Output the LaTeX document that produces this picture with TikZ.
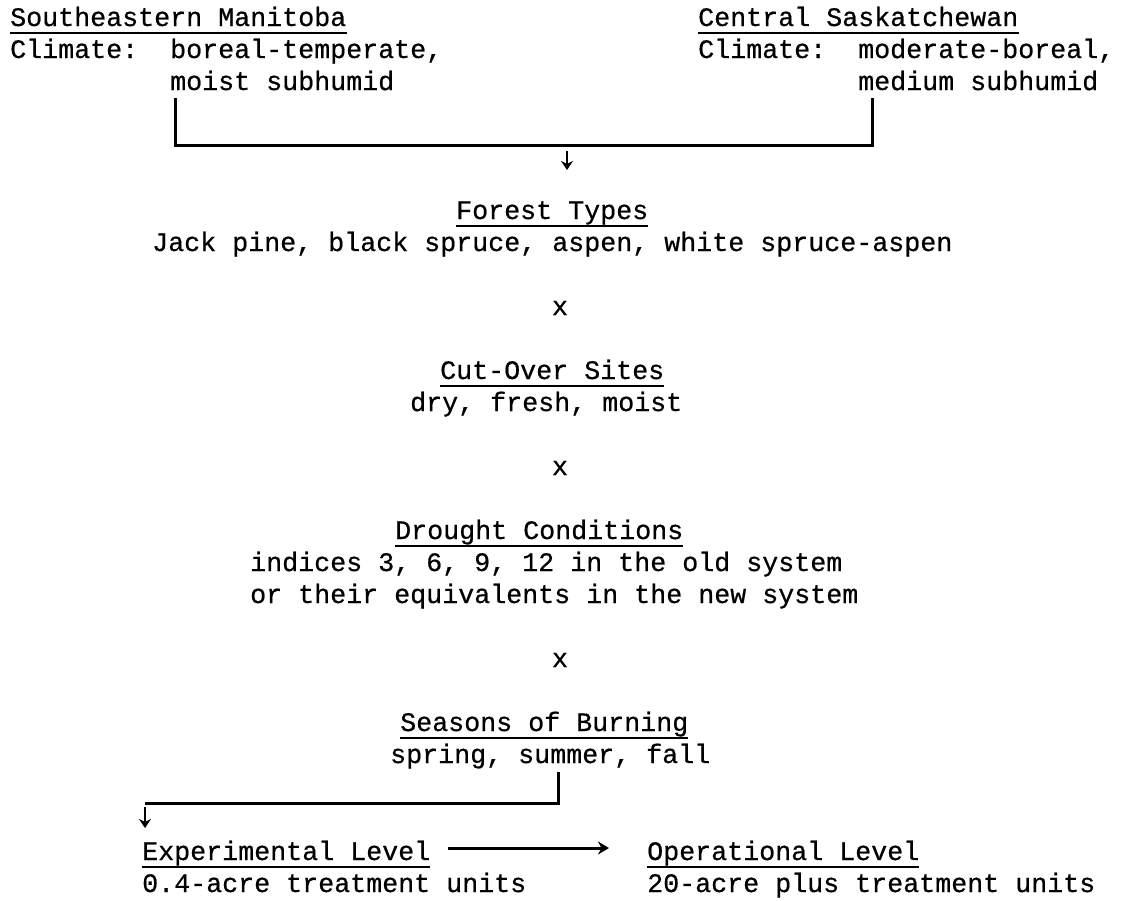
\documentclass[tikz,border=0pt]{standalone}
\usepackage{fontspec}
\newfontfamily\tw{Liberation Mono}[FakeBold=0.6]
\usetikzlibrary{arrows.meta}
\newcommand\myuline[1]{\draw[uline] ([yshift=-7pt]#1.base west) -- ([yshift=-7pt]#1.base east);}
\begin{document}
\begin{tikzpicture}[x=1pt,y=1pt,
  txt/.style={anchor=base west, inner sep=0pt, font=\tw\fontsize{26.67pt}{32pt}\selectfont},
  ctxt/.style={txt, anchor=base},
  uline/.style={line width=1.8pt},
  conn/.style={line width=3pt},
  darrow/.style={line width=2.6pt, -{Stealth[length=9pt,width=12pt]}},
  rarrow/.style={line width=3pt, -{Stealth[length=11pt,width=13pt]}}]
\useasboundingbox (0,0) rectangle (1121,-900);
% top left
\node[txt] (sm) at (10,-26) {Southeastern Manitoba};
\node[txt] (smc) at (10,-58) {Climate:};
\node[txt] (smc1) at (170,-58) {boreal-temperate,};
\node[txt] (smc2) at (170,-90) {moist subhumid};
\myuline{sm}
% top right
\node[txt] (cs) at (698,-26) {Central Saskatchewan};
\node[txt] (csc) at (698,-58) {Climate:};
\node[txt] (csc1) at (858,-58) {moderate-boreal,};
\node[txt] (csc2) at (858,-90) {medium subhumid};
\myuline{cs}
% bracket
\coordinate (tl) at (175,-98);
\coordinate (tr) at (872,-98);
\coordinate (bl) at (175,-145);
\coordinate (br) at (872,-145);
\draw[conn, line join=miter] (tl) -- (bl) -- (br) -- (tr);
\coordinate (a1s) at (567,-151);
% forest types
\node[txt] (ft) at (456,-219) {Forest Types};
\node[txt] (ft1) at (152,-251) {Jack pine, black spruce, aspen, white spruce-aspen};
\myuline{ft}
\coordinate (a1e) at (567,-170);
\draw[darrow] (a1s) -- (a1e);
\node[ctxt] (x1) at (560,-315) {x};
% cut-over
\node[txt] (co) at (440,-379) {Cut-Over Sites};
\node[txt] (co1) at (410,-411) {dry, fresh, moist};
\myuline{co}
\node[ctxt] (x2) at (560,-475) {x};
% drought
\node[txt] (dc) at (395,-539) {Drought Conditions};
\node[txt] (dc1) at (250,-571) {indices 3, 6, 9, 12 in the old system};
\node[txt] (dc2) at (250,-603) {or their equivalents in the new system};
\myuline{dc}
\node[ctxt] (x3) at (560,-667) {x};
% seasons
\node[txt] (sb) at (400,-731) {Seasons of Burning};
\node[txt] (sb1) at (390,-763) {spring, summer, fall};
\myuline{sb}
% levels
\node[txt] (el) at (142,-860) {Experimental Level};
\node[txt] (el1) at (142,-892) {0.4-acre treatment units};
\myuline{el}
\node[txt] (ol) at (647,-860) {Operational Level};
\node[txt] (ol1) at (647,-892) {20-acre plus treatment units};
\myuline{ol}
% bottom bracket
\coordinate (b1) at (558,-772);
\coordinate (b2) at (558,-803);
\coordinate (b3) at (145,-803);
\draw[conn, line join=miter] (b1) -- (b2) -- (b3);
\coordinate (a2s) at (145,-807);
\coordinate (a2e) at (145,-828);
\draw[darrow] (a2s) -- (a2e);
% horizontal arrow
\draw[rarrow] ([xshift=18pt,yshift=12pt]el.base east) -- ([xshift=-38pt,yshift=12pt]ol.base west);
\end{tikzpicture}
\end{document}
